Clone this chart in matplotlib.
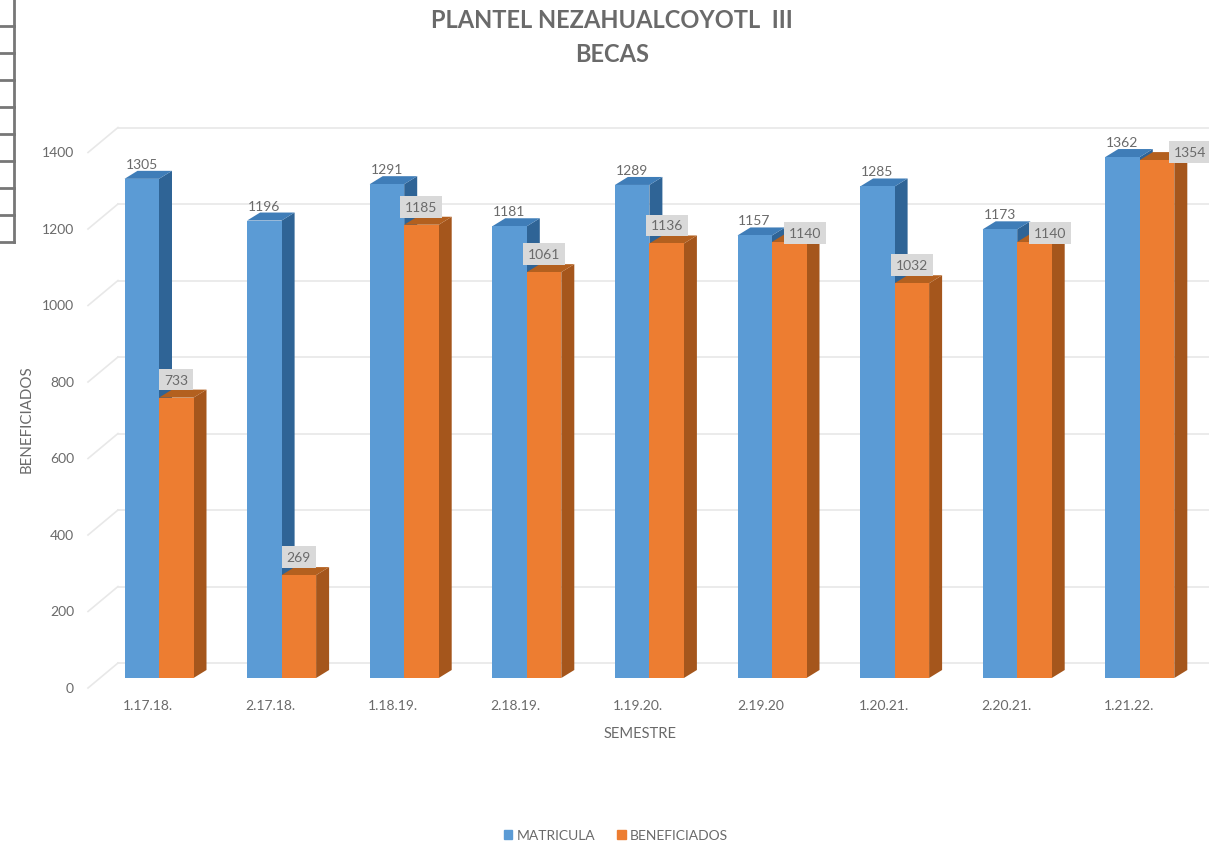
import matplotlib
matplotlib.use('Agg')
import matplotlib.pyplot as plt
import matplotlib.patches as mpatches
import numpy as np
from matplotlib.lines import Line2D
from matplotlib.transforms import ScaledTranslation

plt.rcParams['font.family'] = 'Lato'

semestres = ['1.17.18.', '2.17.18.', '1.18.19.', '2.18.19.', '1.19.20.',
             '2.19.20', '1.20.21.', '2.20.21.', '1.21.22.']
matricula = [1305, 1196, 1291, 1181, 1289, 1157, 1285, 1173, 1362]
beneficiados = [733, 269, 1185, 1061, 1136, 1140, 1032, 1140, 1354]
y_ticks = [0, 200, 400, 600, 800, 1000, 1200, 1400]

W, H = 1209, 845
TEXT = '#6a6a6a'
GRID = '#e8e8e8'

# pixel scale of the chart area
PX_X = 122.6
PX_Y = 0.3825

fig = plt.figure(figsize=(W / 100, H / 100), dpi=100)
ax = fig.add_axes([88 / W, 1 - 679 / H, (W - 88) / W, (678 - 100) / H])
ax.set_xlim((88 - 159) / PX_X, (W - 159) / PX_X)
ax.set_ylim(0, (678 - 100) / PX_Y)
for s in ax.spines.values():
    s.set_visible(False)

index = np.arange(len(semestres))
bar_width = 34.5 / PX_X
dx = 13 / PX_X
dy = 8 / PX_Y


def bar3d(xs, vals, front, top, side, label):
    for x, v in zip(xs, vals):
        xr = x + bar_width
        ax.fill([xr, xr + dx, xr + dx, xr], [0, dy, v + dy, v], color=side, lw=0, zorder=3)
        ax.fill([x, x + dx, xr + dx, xr], [v, v + dy, v + dy, v], color=top, lw=0, zorder=3)
    return ax.bar(xs, vals, bar_width, align='edge', color=front, label=label, zorder=3)


# back wall grid, set back from the front plane
wall_y = 15 / PX_Y
wall_x = 30 / PX_X
x0, x1 = ax.get_xlim()
for t in y_ticks:
    ax.plot([x0 + wall_x, x1], [t + wall_y, t + wall_y], color=GRID, lw=1.2, zorder=1)
    ax.plot([x0, x0 + wall_x], [t + wall_y - 25 / PX_Y, t + wall_y], color=GRID, lw=1.2, zorder=1,
            clip_on=False)

bar3d(index - bar_width, matricula, '#5b9bd5', '#3f7db8', '#2f6496', 'MATRICULA')
bar3d(index, beneficiados, '#ed7d31', '#b3601f', '#a5561c', 'BENEFICIADOS')

# labels
for x, v in zip(index, matricula):
    ax.annotate(str(v), (x - bar_width, v), xytext=(17, 15), textcoords='offset pixels',
                ha='center', va='center', fontsize=10, color=TEXT, zorder=5)

# some of the orange labels were dragged in the original
ben_dx = [0, 0, 0, 0, 0, 16, 0, 16, 33]
ben_dy = [18, 18, 18, 18, 18, 9, 18, 9, 8]
for x, v, sx, sy in zip(index, beneficiados, ben_dx, ben_dy):
    ax.annotate(str(v), (x + bar_width / 2, v), xytext=(sx, sy), textcoords='offset pixels',
                ha='center', va='center', fontsize=10, color=TEXT, zorder=5,
                bbox=dict(boxstyle='square,pad=0.35', fc='#d9d9d9', ec='none'))

# ticks
ax.set_xticks(index)
ax.set_xticklabels(semestres, fontsize=10, color=TEXT)
ax.set_yticks(y_ticks)
ax.set_yticklabels([str(t) for t in y_ticks], fontsize=10, color=TEXT)
ax.tick_params(length=0)
ax.tick_params(axis='x', pad=15)
ax.tick_params(axis='y', pad=10)
for lab in ax.get_xticklabels():
    lab.set_transform(lab.get_transform() + ScaledTranslation(-11 / 100, 0, fig.dpi_scale_trans))
for lab in ax.get_yticklabels():
    lab.set_transform(lab.get_transform() + ScaledTranslation(0, -9 / 100, fig.dpi_scale_trans))

fig.text(27 / W, 1 - 419 / H, 'BENEFICIADOS', rotation=90, ha='center', va='center', fontsize=10.8, color=TEXT)
fig.text(640 / W, 1 - 734 / H, 'SEMESTRE', ha='center', va='center', fontsize=10.6, color=TEXT)
fig.text(612 / W, 1 - 20 / H, 'PLANTEL NEZAHUALCOYOTL  III', ha='center', va='center',
         fontsize=17, fontweight='bold', color=TEXT)
fig.text(612 / W, 1 - 54 / H, 'BECAS', ha='center', va='center', fontsize=17, fontweight='bold', color=TEXT)

handles = [mpatches.Patch(color='#5b9bd5'), mpatches.Patch(color='#ed7d31')]
fig.legend(handles, ['MATRICULA', 'BENEFICIADOS'], loc='center', bbox_to_anchor=(616 / W, 1 - 836 / H),
           ncol=2, frameon=False, fontsize=10, labelcolor=TEXT, handlelength=0.6, handleheight=0.6,
           handletextpad=0.3, columnspacing=1.6)

# piece of a table cropped at the top left of the original picture
RULER = '#777777'
fig.add_artist(Line2D([14 / W, 14 / W], [1, 1 - 243 / H], color=RULER, lw=2))
for y in np.arange(27, 244, 27):
    fig.add_artist(Line2D([0, 14 / W], [1 - y / H, 1 - y / H], color=RULER, lw=2))

fig.savefig('out.png', dpi=100)
